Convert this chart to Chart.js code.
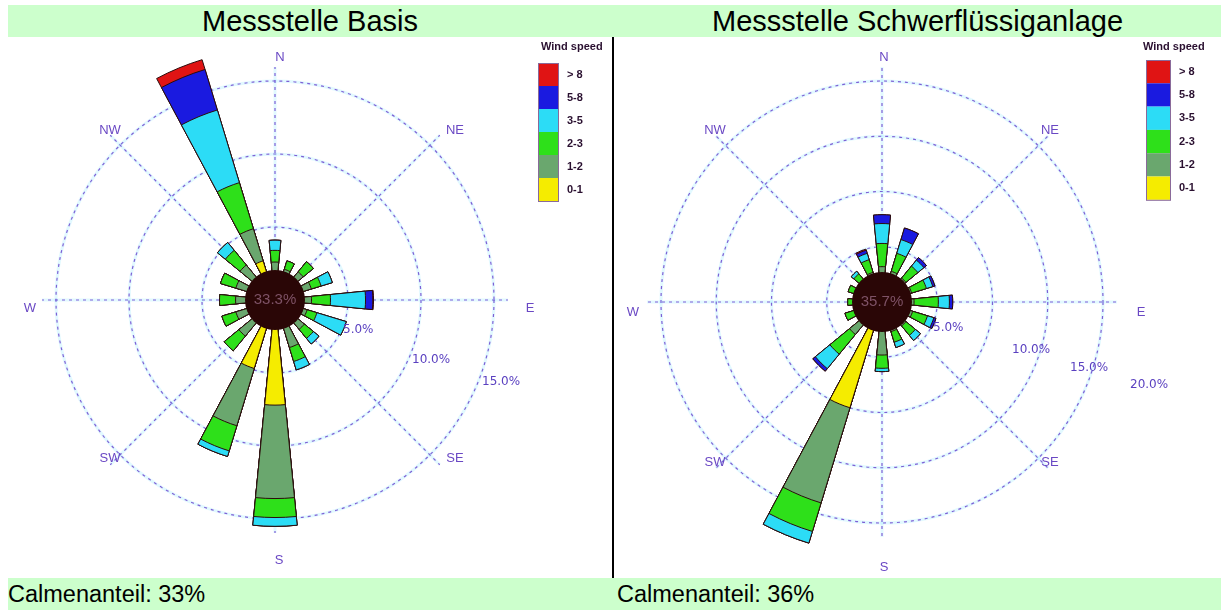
<!DOCTYPE html>
<html>
<head>
<meta charset="utf-8">
<title>Windrosen</title>
<script src="https://cdn.jsdelivr.net/npm/chart.js"></script>
<style>
  body { margin: 0; width: 1221px; height: 610px; background: #fff; position: relative; overflow: hidden;
         font-family: "Liberation Sans", Arial, sans-serif; }
  .band { position: absolute; left: 8px; width: 1213px; height: 32px; background: #ccffcc; }
  .title { position: absolute; top: 5px; height: 32px; line-height: 33px; font-size: 29px; text-align: center; color: #000; }
  .calm { position: absolute; top: 578px; height: 32px; line-height: 33px; font-size: 23.5px; color: #000; }
  canvas { position: absolute; top: 37px; }
  #sep { position: absolute; left: 612px; top: 37px; width: 2px; height: 541px; background: #000; }
</style>
</head>
<body>
<div class="band" style="top:5px"></div>
<div class="title" style="left:8px;width:604px">Messstelle Basis</div>
<div class="title" style="left:614px;width:607px">Messstelle Schwerflüssiganlage</div>
<div id="sep"></div>
<canvas id="roseBasis" width="604" height="541" style="left:8px"></canvas>
<canvas id="roseSchwer" width="607" height="541" style="left:614px"></canvas>
<div class="band" style="top:578px"></div>
<div class="calm" style="left:8px">Calmenanteil: 33%</div>
<div class="calm" style="left:617px">Calmenanteil: 36%</div>

<script>
// Richtungen im Uhrzeigersinn ab Nord
const directions = ['N', 'NNE', 'NE', 'ENE', 'E', 'ESE', 'SE', 'SSE', 'S', 'SSW', 'SW', 'WSW', 'W', 'WNW', 'NW', 'NNW'];
const speedClasses = ['0-1', '1-2', '2-3', '3-5', '5-8', '> 8'];
const speedColors = ['#f5ec00', '#6aa76e', '#2ee01a', '#2cdcf6', '#1a1ae0', '#e01414'];
const compass = ['N', 'NE', 'E', 'SE', 'S', 'SW', 'W', 'NW'];

// Messstelle Basis, Anteil in % je Richtung und Windklasse
const basis01 = [1.6, 1.5, 1.6, 1.6, 1.5, 1.5, 1.6, 1.8, 7.2, 4.9, 1.8, 1.6, 1.6, 1.6, 1.7, 2.8];
const basis12 = [1.0, 0.7, 0.9, 1.0, 1.0, 0.8, 1.0, 1.6, 6.4, 4.1, 1.4, 1.2, 1.1, 1.2, 1.4, 2.3];
const basis23 = [0.8, 0.6, 0.9, 0.7, 1.3, 0.7, 0.8, 1.0, 1.3, 1.8, 1.3, 1.0, 1.1, 1.1, 1.3, 3.3];
const basis35 = [0.7, 0, 0, 0.8, 2.4, 2.1, 0.5, 0.6, 0.6, 0.4, 0, 0, 0, 0, 0.7, 5.2];
const basis58 = [0, 0, 0, 0, 0.5, 0, 0, 0, 0, 0, 0, 0, 0, 0, 0, 2.9];
const basis8 = [0, 0, 0, 0, 0.05, 0, 0, 0, 0, 0, 0, 0, 0, 0, 0, 0.7];
const basisRings = [5, 10, 15];

// Messstelle Schwerflüssiganlage
const schwer01 = [1.6, 1.5, 1.5, 1.5, 1.5, 1.6, 1.6, 1.6, 2.0, 10.0, 1.8, 1.6, 1.5, 1.5, 1.6, 1.6];
const schwer12 = [1.6, 1.4, 1.3, 1.3, 1.4, 1.3, 1.2, 1.2, 2.8, 9.0, 2.0, 1.0, 0.9, 0.9, 1.0, 1.2];
const schwer23 = [2.1, 1.7, 1.4, 1.4, 2.2, 1.4, 1.1, 1.0, 1.2, 2.7, 2.3, 0.9, 0.7, 0.8, 0.7, 1.2];
const schwer35 = [1.8, 1.3, 0.7, 0.6, 1.0, 0.6, 0.6, 0.5, 0.3, 1.1, 1.7, 0, 0, 0, 0.3, 0.6];
const schwer58 = [0.8, 1.1, 0.3, 0.2, 0.3, 0.2, 0, 0, 0, 0, 0.3, 0, 0, 0, 0, 0.3];
const schwer8 = [0, 0, 0, 0, 0, 0, 0, 0, 0, 0, 0, 0, 0, 0, 0, 0.1];
const schwerRings = [5, 10, 15, 20];

const gridColor = 'rgba(115, 80, 210, 0.9)';
const haloColor = 'rgba(110, 225, 255, 0.2)';
Chart.defaults.font.family = '"Liberation Sans", Arial, sans-serif';

// every direction gets a bar slot followed by an empty slot of the same width
function withGaps(values) {
  const out = [];
  values.forEach(v => { out.push(v); out.push(0); });
  return out;
}

function buildDatasets(classes) {
  const running = directions.map(() => 0);
  return classes.map((vals, k) => {
    vals.forEach((v, i) => { running[i] += v; });
    return {
      label: speedClasses[k],
      data: withGaps(running.map(v => +v.toFixed(2))),
      backgroundColor: speedColors[k],
      borderColor: '#2b0c0c',
      borderWidth: 1,
      clip: false
    };
  });
}

function spokes(chart, o, style, width, dash) {
  const s = chart.scales.r, ctx = chart.ctx;
  const len = s.drawingArea + o.spokeExtra;
  ctx.save();
  ctx.strokeStyle = style;
  ctx.lineWidth = width;
  ctx.setLineDash(dash);
  for (let i = 0; i < 8; i++) {
    const a = i * Math.PI / 4;
    ctx.beginPath();
    ctx.moveTo(s.xCenter, s.yCenter);
    ctx.lineTo(s.xCenter + Math.sin(a) * len, s.yCenter - Math.cos(a) * len);
    ctx.stroke();
  }
  ctx.restore();
}

const rosePlugin = {
  id: 'rose',
  beforeDraw(chart, args, o) {
    // soft cyan fringe under the dotted grid, like the dithered original
    const s = chart.scales.r, ctx = chart.ctx;
    ctx.save();
    ctx.strokeStyle = haloColor;
    ctx.lineWidth = 3;
    o.rings.forEach(v => {
      ctx.beginPath();
      ctx.arc(s.xCenter, s.yCenter, s.getDistanceFromCenterForValue(v), 0, Math.PI * 2);
      ctx.stroke();
    });
    ctx.restore();
    spokes(chart, o, haloColor, 3, []);
  },
  beforeDatasetsDraw(chart, args, o) {
    spokes(chart, o, gridColor, 1.2, [3, 4]);
  },
  afterDatasetsDraw(chart, args, o) {
    const s = chart.scales.r, ctx = chart.ctx;
    const cx = s.xCenter, cy = s.yCenter;
    ctx.save();
    // calm circle
    ctx.beginPath();
    ctx.arc(cx, cy, 30, 0, Math.PI * 2);
    ctx.fillStyle = '#2a0606';
    ctx.fill();
    ctx.font = '15px "Liberation Sans", Arial';
    ctx.fillStyle = '#7e5266';
    ctx.textAlign = 'center';
    ctx.textBaseline = 'middle';
    ctx.fillText(o.calm, cx, cy);

    // ring labels
    ctx.font = '12px "DejaVu Sans", sans-serif';
    ctx.fillStyle = '#5a40c0';
    ctx.textAlign = 'left';
    o.rings.forEach((v, i) => {
      ctx.fillText(v.toFixed(1) + '%', cx + o.ringPos[i][0], cy + o.ringPos[i][1]);
    });

    // compass labels
    ctx.font = '13px "Liberation Sans", Arial';
    ctx.fillStyle = '#6a48c4';
    ctx.textAlign = 'center';
    compass.forEach((c, i) => {
      ctx.fillText(c, cx + o.compassPos[i][0], cy + o.compassPos[i][1]);
    });

    // legend
    ctx.font = 'bold 11px "Liberation Sans", Arial';
    ctx.fillStyle = '#2a1030';
    ctx.textAlign = 'left';
    ctx.fillText('Wind speed', o.legend.tx, o.legend.ty);
    for (let i = 0; i < speedClasses.length; i++) {
      const k = speedClasses.length - 1 - i;
      const y = o.legend.y + i * o.legend.h;
      ctx.fillStyle = speedColors[k];
      ctx.fillRect(o.legend.x, y, o.legend.w, o.legend.h);
      ctx.fillStyle = '#2a1030';
      ctx.fillText(speedClasses[k], o.legend.x + o.legend.w + 9, y + o.legend.h / 2);
    }
    ctx.strokeStyle = '#8a6a9a';
    ctx.lineWidth = 1;
    ctx.strokeRect(o.legend.x + 0.5, o.legend.y + 0.5, o.legend.w, o.legend.h * 6);
    ctx.restore();
  }
};

function makeRose(id, classes, rings, padding, extra) {
  new Chart(document.getElementById(id), {
    type: 'polarArea',
    data: {
      labels: withGaps(directions),
      datasets: buildDatasets(classes)
    },
    options: {
      responsive: false,
      animation: false,
      layout: { padding: padding },
      scales: {
        r: {
          min: 0,
          max: rings[rings.length - 1],
          startAngle: -5.625,
          ticks: { display: false, stepSize: 5 },
          grid: { color: gridColor, lineWidth: 1.2, circular: true },
          border: { dash: [3, 4] },
          angleLines: { display: false },
          pointLabels: { display: false }
        }
      },
      plugins: {
        legend: { display: false },
        tooltip: { enabled: false },
        rose: Object.assign({ rings: rings }, extra)
      }
    },
    plugins: [rosePlugin]
  });
}

makeRose('roseBasis',
  [basis01, basis12, basis23, basis35, basis58, basis8],
  basisRings,
  { left: 48, top: 44, right: 118, bottom: 59 },
  {
    calm: '33.3%',
    spokeExtra: 14,
    ringPos: [[68, 30], [137, 60], [207, 82]],
    compassPos: [[5, -243], [180, -170], [255, 8], [180, 158], [4, 260], [-165, 158], [-245, 8], [-165, -170]],
    legend: { x: 530, y: 26, w: 20, h: 23, tx: 533, ty: 10 }
  });

makeRose('roseSchwer',
  [schwer01, schwer12, schwer23, schwer35, schwer58, schwer8],
  schwerRings,
  { left: 47, top: 44, right: 118, bottom: 55 },
  {
    calm: '35.7%',
    spokeExtra: 14,
    ringPos: [[51, 26], [130, 48], [188, 66], [248, 83]],
    compassPos: [[2, -245], [168, -172], [259, 10], [168, 160], [2, 265], [-167, 160], [-249, 10], [-167, -172]],
    legend: { x: 532, y: 23, w: 24, h: 23.3, tx: 529, ty: 10 }
  });
</script>
</body>
</html>
